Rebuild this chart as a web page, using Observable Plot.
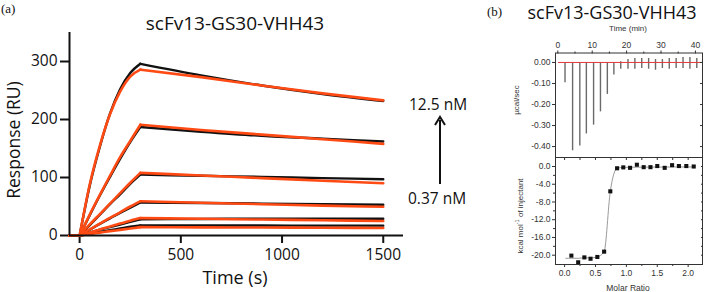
<!DOCTYPE html>
<html><head><meta charset="utf-8">
<script src="https://cdn.jsdelivr.net/npm/d3@7"></script>
<script src="https://cdn.jsdelivr.net/npm/@observablehq/plot@0.6"></script>
<style>
body{margin:0;background:#fff;}
#wrap{position:relative;width:709px;height:292px;overflow:hidden;font-family:"Open Sans",sans-serif;color:#111;}
.t{position:absolute;white-space:nowrap;line-height:1;transform:translate(-50%,-50%);}
.l{position:absolute;white-space:nowrap;line-height:1;transform:translate(0,-50%);}
.r{position:absolute;white-space:nowrap;line-height:1;transform:translate(-50%,-50%) rotate(-90deg);}
.p{position:absolute;}
.ser{font-family:"Liberation Serif","DejaVu Serif",serif;font-size:13px;}
.sm{font-family:"Liberation Sans",Arial,sans-serif;font-size:8.5px;color:#333;}
</style></head><body><div id="wrap"></div>
<script>
// ---------- Panel (a): SPR sensorgrams ----------
const sensorTimes = [-50, 0, 50, 100, 150, 200, 250, 300, 600, 900, 1200, 1500];
const seriesNames = ["12.5 nM", "6.25 nM", "3.13 nM", "1.56 nM", "0.78 nM", "0.37 nM"];
const measured12_5 = [0, 0, 86, 153, 210, 252, 280, 296, 276, 258.6, 244, 232];
const measured6_25 = [0, 0, 35, 69, 101, 132, 161, 187, 179, 172, 167, 162];
const measured3_13 = [0, 0, 18, 36, 54, 71, 89, 105, 103, 101, 99, 97];
const measured1_56 = [0, 0, 10, 20, 29.5, 39, 48, 57, 56, 55, 54, 53];
const measured0_78 = [0, 0, 5, 10, 14.5, 19, 23.5, 28, 28.5, 29, 29, 29];
const measured0_37 = [0, 0, 3, 6, 9, 12, 15, 17.5, 17.3, 17.2, 17, 17];
const fit12_5 = [0, 0, 88, 155, 209, 248, 274, 286, 273, 258.6, 245, 233];
const fit6_25 = [0, 0, 36, 70, 103, 135, 163, 191, 182, 174, 166, 158];
const fit3_13 = [0, 0, 19, 37, 55, 73, 91, 108, 103.5, 99, 94.5, 90];
const fit1_56 = [0, 0, 10.5, 20.5, 30.5, 40, 50, 59, 56.5, 54, 51.5, 49.5];
const fit0_78 = [0, 0, 5, 10.5, 15.5, 20.5, 25.5, 30, 28.8, 27.5, 26.3, 25];
const fit0_37 = [0, 0, 2.5, 5, 7.5, 9.7, 12, 14.4, 14, 13.7, 13.3, 13];
const timeTicks = [0, 500, 1000, 1500];
const responseTicks = [0, 100, 200, 300];

// ---------- Panel (b): ITC ----------
const injectionTimes = [2.1, 4.3, 6.4, 8.3, 10.4, 12.4, 14.4, 16.3, 18.3, 20.4, 22.4, 24.4, 26.4, 28.4, 30.4, 32.4, 34.4, 36.4, 38.4, 40.4];
const injectionPeakDown = [-0.097, -0.42, -0.397, -0.34, -0.298, -0.235, -0.152, -0.06, -0.032, -0.032, -0.032, -0.029, -0.032, -0.037, -0.029, -0.032, -0.029, -0.029, -0.032, -0.029];
const injectionPeakUp = [0, 0, 0, 0, 0, 0, 0, 0, 0.003, 0.014, 0.019, 0.019, 0.019, 0.014, 0.014, 0.019, 0.019, 0.024, 0.024, 0.019];
const minTicks = [0, 10, 20, 30, 40];
const minMinorTicks = [5, 15, 25, 35];
const ucalTicks = [0, -0.1, -0.2, -0.3, -0.4];
const molarRatio = [0.11, 0.22, 0.32, 0.42, 0.53, 0.64, 0.74, 0.85, 0.95, 1.06, 1.17, 1.28, 1.39, 1.50, 1.62, 1.74, 1.85, 1.97, 2.09];
const heatPerInjection = [-20.1, -21.6, -20.5, -20.8, -20.4, -19.2, -5.6, -0.4, -0.2, -0.3, 0.4, -0.15, -0.15, 0.1, -0.3, 0.3, 0.1, 0.1, 0.0];
const fitMolarRatio = [0.02, 0.11, 0.22, 0.32, 0.42, 0.53, 0.64, 0.74, 0.85, 0.95, 1.2, 1.6, 2.09];
const fitHeat = [-20.7, -20.7, -20.7, -20.6, -20.6, -20.4, -19.2, -5.6, -0.4, -0.2, -0.15, -0.12, -0.1];
const ratioTicks = [0, 0.5, 1, 1.5, 2];
const ratioMinorTicks = [0.25, 0.75, 1.25, 1.75];
const heatTicks = [0, -4, -8, -12, -16, -20];
const heatMinorTicks = [-2, -6, -10, -14, -18];

const wrap = document.getElementById("wrap");
function add(html){ wrap.insertAdjacentHTML("beforeend", html); }
function place(node, x, y){ const d = document.createElement("div"); d.className = "p"; d.style.left = x + "px"; d.style.top = y + "px"; d.appendChild(node); wrap.appendChild(d); }

// build long-format table for SPR
const measuredSets = [measured12_5, measured6_25, measured3_13, measured1_56, measured0_78, measured0_37];
const fitSets = [fit12_5, fit6_25, fit3_13, fit1_56, fit0_78, fit0_37];
const spr = [];
seriesNames.forEach((name, i) => {
  sensorTimes.forEach((t, j) => {
    spr.push({series: name, kind: "measured", t, v: measuredSets[i][j]});
    spr.push({series: name, kind: "fit", t, v: fitSets[i][j]});
  });
});
const RED = "#ff4a14";
const assoc = d => d.t >= 0 && d.t <= 300;
const dissoc = d => d.t >= 300;
const pre = d => d.t <= 0;
const plain = d => String(d);

const sprPlot = Plot.plot({
  width: 480, height: 292,
  marginLeft: 69, marginRight: 77, marginTop: 32, marginBottom: 57,
  x: {domain: [-50, 1600]},
  y: {domain: [0, 350]},
  style: {fontFamily: "'Open Sans', sans-serif", fontSize: "15.5px", color: "#111", background: "transparent"},
  marks: [
    Plot.axisX({ticks: timeTicks, tickSize: 8, tickPadding: 5, strokeWidth: 2, label: null, fontSize: 15.5, tickFormat: plain}),
    Plot.axisY({ticks: responseTicks, tickSize: 9, tickPadding: 3, strokeWidth: 2, label: null, fontSize: 15.5, tickFormat: plain}),
    Plot.line(spr.filter(d => d.kind === "measured" && pre(d)), {x: "t", y: "v", z: "series", stroke: "#111", strokeWidth: 2.4}),
    Plot.line(spr.filter(d => d.kind === "measured" && assoc(d)), {x: "t", y: "v", z: "series", stroke: "#111", strokeWidth: 2.4, curve: "monotone-x"}),
    Plot.line(spr.filter(d => d.kind === "measured" && dissoc(d)), {x: "t", y: "v", z: "series", stroke: "#111", strokeWidth: 2.4, curve: "monotone-x"}),
    Plot.line(spr.filter(d => d.kind === "fit" && pre(d)), {x: "t", y: "v", z: "series", stroke: RED, strokeWidth: 2.6}),
    Plot.line(spr.filter(d => d.kind === "fit" && assoc(d)), {x: "t", y: "v", z: "series", stroke: RED, strokeWidth: 2.6, curve: "monotone-x"}),
    Plot.line(spr.filter(d => d.kind === "fit" && dissoc(d)), {x: "t", y: "v", z: "series", stroke: RED, strokeWidth: 2.6, curve: "monotone-x"}),
    Plot.ruleY([0], {stroke: "#111", strokeWidth: 2}),
    Plot.ruleX([-50], {stroke: "#111", strokeWidth: 2})
  ]
});
place(sprPlot, 0, 0);

// ITC raw thermogram
const fmt2 = d => d.toFixed(2);
const fmt1 = d => d.toFixed(1);
const inj = injectionTimes.map((t, i) => ({t, down: injectionPeakDown[i], up: injectionPeakUp[i]}));
const smallStyle = {fontFamily: "'Liberation Sans', Arial, sans-serif", fontSize: "8.5px", color: "#333", background: "transparent"};
const noText = {fill: "none", label: null};
const rawPlot = Plot.plot({
  width: 204, height: 138,
  marginLeft: 50, marginRight: 7, marginTop: 32.5, marginBottom: 1,
  x: {domain: [-0.67, 42.06]},
  y: {domain: [-0.452, 0.045]},
  style: smallStyle,
  marks: [
    Plot.ruleX(inj, {x: "t", y1: "up", y2: "down", stroke: "#6a6a6a", strokeWidth: 1.4}),
    Plot.ruleY([0], {x1: 0.2, x2: 42, stroke: "#e23a3a", strokeWidth: 1}),
    Plot.frame({stroke: "#333", strokeWidth: 1}),
    Plot.axisX({anchor: "top", ticks: minTicks, tickSize: 3, tickPadding: 2, label: null, fontSize: 8.5, tickFormat: plain}),
    Plot.axisX({anchor: "top", ticks: minMinorTicks, tickSize: 2, ...noText}),
    Plot.axisY({anchor: "left", ticks: ucalTicks, tickSize: 3, tickPadding: 2, tickFormat: fmt2, label: null, fontSize: 8.5}),
    Plot.axisY({anchor: "right", ticks: ucalTicks, tickSize: -3, ...noText})
  ]
});
place(rawPlot, 505, 20);

const heatPlot = Plot.plot({
  width: 204, height: 135,
  marginLeft: 50, marginRight: 7, marginTop: 0, marginBottom: 28,
  x: {domain: [-0.147, 2.232]},
  y: {domain: [-22.1, 2.03]},
  style: smallStyle,
  marks: [
    Plot.line(fitMolarRatio.map((x, i) => ({x, y: fitHeat[i]})), {x: "x", y: "y", stroke: "#9a9a9a", strokeWidth: 1, curve: "monotone-x"}),
    Plot.dot(molarRatio.map((x, i) => ({x, y: heatPerInjection[i]})), {x: "x", y: "y", symbol: "square", r: 2.3, fill: "#111", stroke: "none"}),
    Plot.frame({stroke: "#333", strokeWidth: 1}),
    Plot.axisX({anchor: "bottom", ticks: ratioTicks, tickSize: 3, tickPadding: 2, tickFormat: fmt1, label: null, fontSize: 8.5}),
    Plot.axisX({anchor: "bottom", ticks: ratioMinorTicks, tickSize: 2, ...noText}),
    Plot.axisX({anchor: "top", ticks: ratioTicks.concat(ratioMinorTicks), tickSize: -2, ...noText}),
    Plot.axisY({anchor: "left", ticks: heatTicks, tickSize: 3, tickPadding: 2, tickFormat: fmt1, label: null, fontSize: 8.5}),
    Plot.axisY({anchor: "left", ticks: heatMinorTicks, tickSize: 2, ...noText}),
    Plot.axisY({anchor: "right", ticks: heatTicks.concat(heatMinorTicks), tickSize: -2, ...noText})
  ]
});
place(heatPlot, 505, 157);

// Texts
add('<div class="l ser" style="left:1px;top:8px;">(a)</div>');
add('<div class="t" style="left:235px;top:23px;font-size:19px;">scFv13-GS30-VHH43</div>');
add('<div class="r" style="left:14px;top:140px;font-size:17.5px;">Response (RU)</div>');
add('<div class="t" style="left:235px;top:277px;font-size:18px;">Time (s)</div>');
add('<div class="l" style="left:409px;top:105px;font-size:15.5px;">12.5 nM</div>');
add('<div class="l" style="left:408px;top:199px;font-size:15.5px;">0.37 nM</div>');
add('<svg class="p" style="left:432px;top:112px;" width="16" height="76"><line x1="8" y1="72" x2="8" y2="8" stroke="#111" stroke-width="2"/><path d="M3,13 L8,5 L13,13" fill="none" stroke="#111" stroke-width="2"/></svg>');
add('<div class="l ser" style="left:487px;top:11px;">(b)</div>');
add('<div class="t" style="left:612px;top:12px;font-size:18px;">scFv13-GS30-VHH43</div>');
add('<div class="t sm" style="left:628px;top:29px;font-size:8px;">Time (min)</div>');
add('<div class="r sm" style="left:517px;top:100px;font-size:8px;">µcal/sec</div>');
add('<div class="r sm" style="left:520px;top:216px;font-size:8px;">kcal mol<sup style="font-size:5.5px">-1</sup> of injectant</div>');
add('<div class="t sm" style="left:628px;top:288px;">Molar Ratio</div>');
</script></body></html>
